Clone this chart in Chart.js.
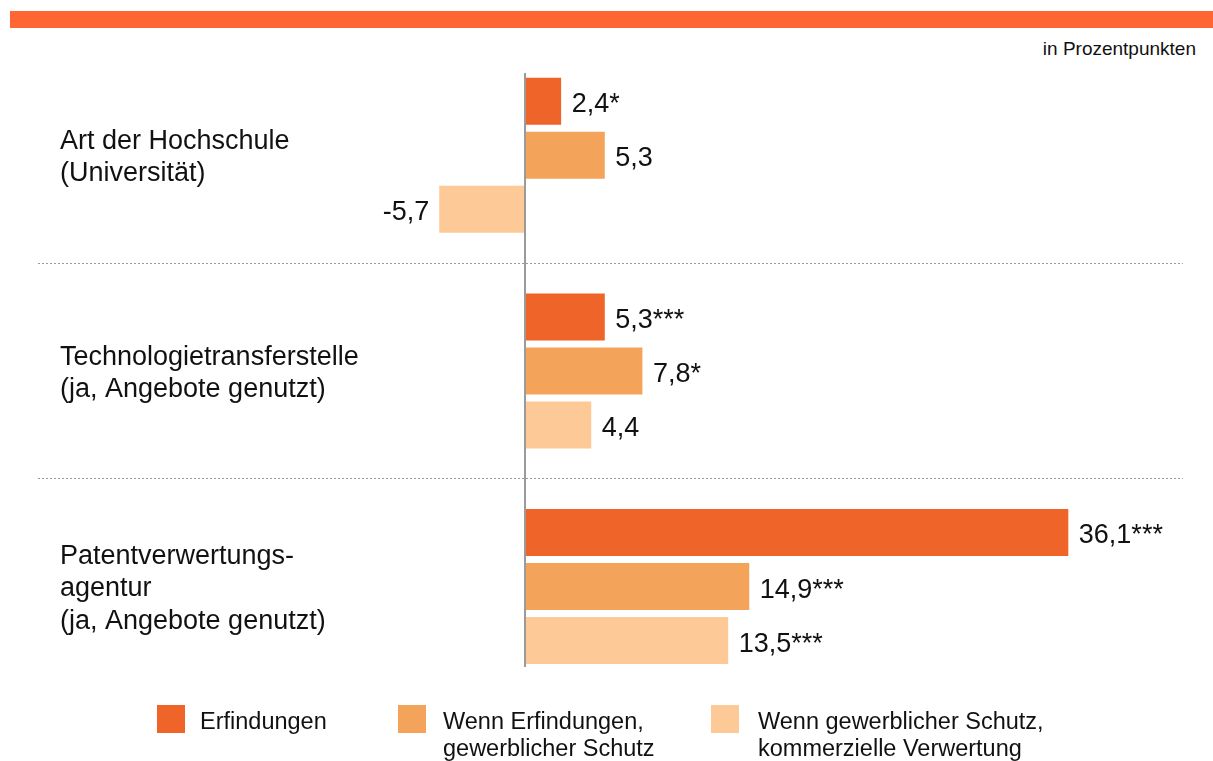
<!DOCTYPE html>
<html><head><meta charset="utf-8">
<script src="https://cdn.jsdelivr.net/npm/chart.js@4"></script>
<style>
html,body{margin:0;padding:0;background:#fff;}
body{width:1213px;height:761px;position:relative;overflow:hidden;font-family:"Liberation Sans",Arial,sans-serif;}
#topbar{position:absolute;left:10px;top:11px;width:1203px;height:17px;background:#FF6633;}
#unit{position:absolute;right:17px;top:39px;font-size:19px;line-height:19px;color:#111;white-space:nowrap;}
canvas{position:absolute;left:0;top:0;}
.lg-box{position:absolute;width:28px;height:28px;top:705px;}
.lg-txt{position:absolute;top:708px;font-size:23.5px;line-height:27px;color:#111;white-space:nowrap;}
</style></head>
<body>
<div id="topbar"></div>
<div id="unit">in Prozentpunkten</div>
<canvas id="c" width="1213" height="761"></canvas>
<div id="legend"></div>
<script>
// ---- data ----
const categories = [
  ["Art der Hochschule", "(Universität)"],
  ["Technologietransferstelle", "(ja, Angebote genutzt)"],
  ["Patentverwertungs-", "agentur", "(ja, Angebote genutzt)"]
];
const seriesNames = [
  ["Erfindungen"],
  ["Wenn Erfindungen,", "gewerblicher Schutz"],
  ["Wenn gewerblicher Schutz,", "kommerzielle Verwertung"]
];
const erfindungen = [2.4, 5.3, 36.1];
const schutz = [5.3, 7.8, 14.9];
const verwertung = [-5.7, 4.4, 13.5];
const erfindungenSig = ["*", "***", "***"];
const schutzSig = ["", "*", "***"];
const verwertungSig = ["", "", "***"];
const colors = ["#EF6428", "#F4A45A", "#FDCA97"];

// ---- layout ----
const FONT = '"Liberation Sans", Arial, sans-serif';
const legendBoxLeft = [157, 398, 711];
const legendTextLeft = [200, 443, 758];

const valueLabels = {
  id: 'valueLabels',
  afterDatasetsDraw(chart) {
    const ctx = chart.ctx;
    const ca = chart.chartArea;
    const x0 = chart.scales.x.getPixelForValue(0);
    ctx.save();
    ctx.strokeStyle = '#9a9a9a';
    ctx.lineWidth = 2;
    ctx.beginPath();
    ctx.moveTo(x0, ca.top + 25.5);
    ctx.lineTo(x0, ca.bottom - 27.3);
    ctx.stroke();
    ctx.font = '27px ' + FONT;
    ctx.fillStyle = '#111';
    ctx.textBaseline = 'alphabetic';
    chart.data.datasets.forEach((ds, di) => {
      const meta = chart.getDatasetMeta(di);
      meta.data.forEach((bar, i) => {
        const v = ds.data[i];
        const txt = v.toFixed(1).replace('.', ',') + ds.sig[i];
        const y = bar.y + 11;
        if (v >= 0) { ctx.textAlign = 'left'; ctx.fillText(txt, bar.x + 10.5, y); }
        else { ctx.textAlign = 'right'; ctx.fillText(txt, bar.x - 10, y); }
      });
    });
    ctx.restore();
  }
};

const mk = (name, data, sig, color) => ({
  label: name.join(' '), legendLines: name, data: data, sig: sig,
  backgroundColor: color, borderWidth: 0,
  categoryPercentage: 0.7514, barPercentage: 0.87
});

const chart = new Chart(document.getElementById('c'), {
  type: 'bar',
  data: {
    labels: categories,
    datasets: [
      mk(seriesNames[0], erfindungen, erfindungenSig, colors[0]),
      mk(seriesNames[1], schutz, schutzSig, colors[1]),
      mk(seriesNames[2], verwertung, verwertungSig, colors[2])
    ]
  },
  options: {
    responsive: false,
    animation: false,
    indexAxis: 'y',
    layout: { padding: { top: 47.5, bottom: 66.7, left: 38, right: 30 } },
    plugins: { legend: { display: false }, tooltip: { enabled: false }, title: { display: false } },
    scales: {
      x: { display: false, min: -32.36, max: 43.72 },
      y: {
        position: 'left',
        afterFit(s) { s.width = 0; s.paddingTop = 0; s.paddingBottom = 0; s.paddingLeft = 0; s.paddingRight = 0; },
        border: { display: false, dash: [2, 2] },
        grid: {
          drawTicks: false, offset: true, lineWidth: 1,
          color: c => (c.index === 1 || c.index === 2) ? '#9a9a9a' : 'rgba(0,0,0,0)'
        },
        ticks: { mirror: true, padding: 22, labelOffset: 2.5, color: '#111', font: { family: FONT, size: 27, lineHeight: 1.2 } }
      }
    }
  },
  plugins: [valueLabels]
});

const legendEl = document.getElementById('legend');
chart.data.datasets.forEach((ds, i) => {
  const b = document.createElement('div');
  b.className = 'lg-box';
  b.style.left = legendBoxLeft[i] + 'px';
  b.style.background = ds.backgroundColor;
  legendEl.appendChild(b);
  const t = document.createElement('div');
  t.className = 'lg-txt';
  t.style.left = legendTextLeft[i] + 'px';
  ds.legendLines.forEach(line => {
    const d = document.createElement('div');
    d.textContent = line;
    t.appendChild(d);
  });
  legendEl.appendChild(t);
});
</script>
</body></html>
